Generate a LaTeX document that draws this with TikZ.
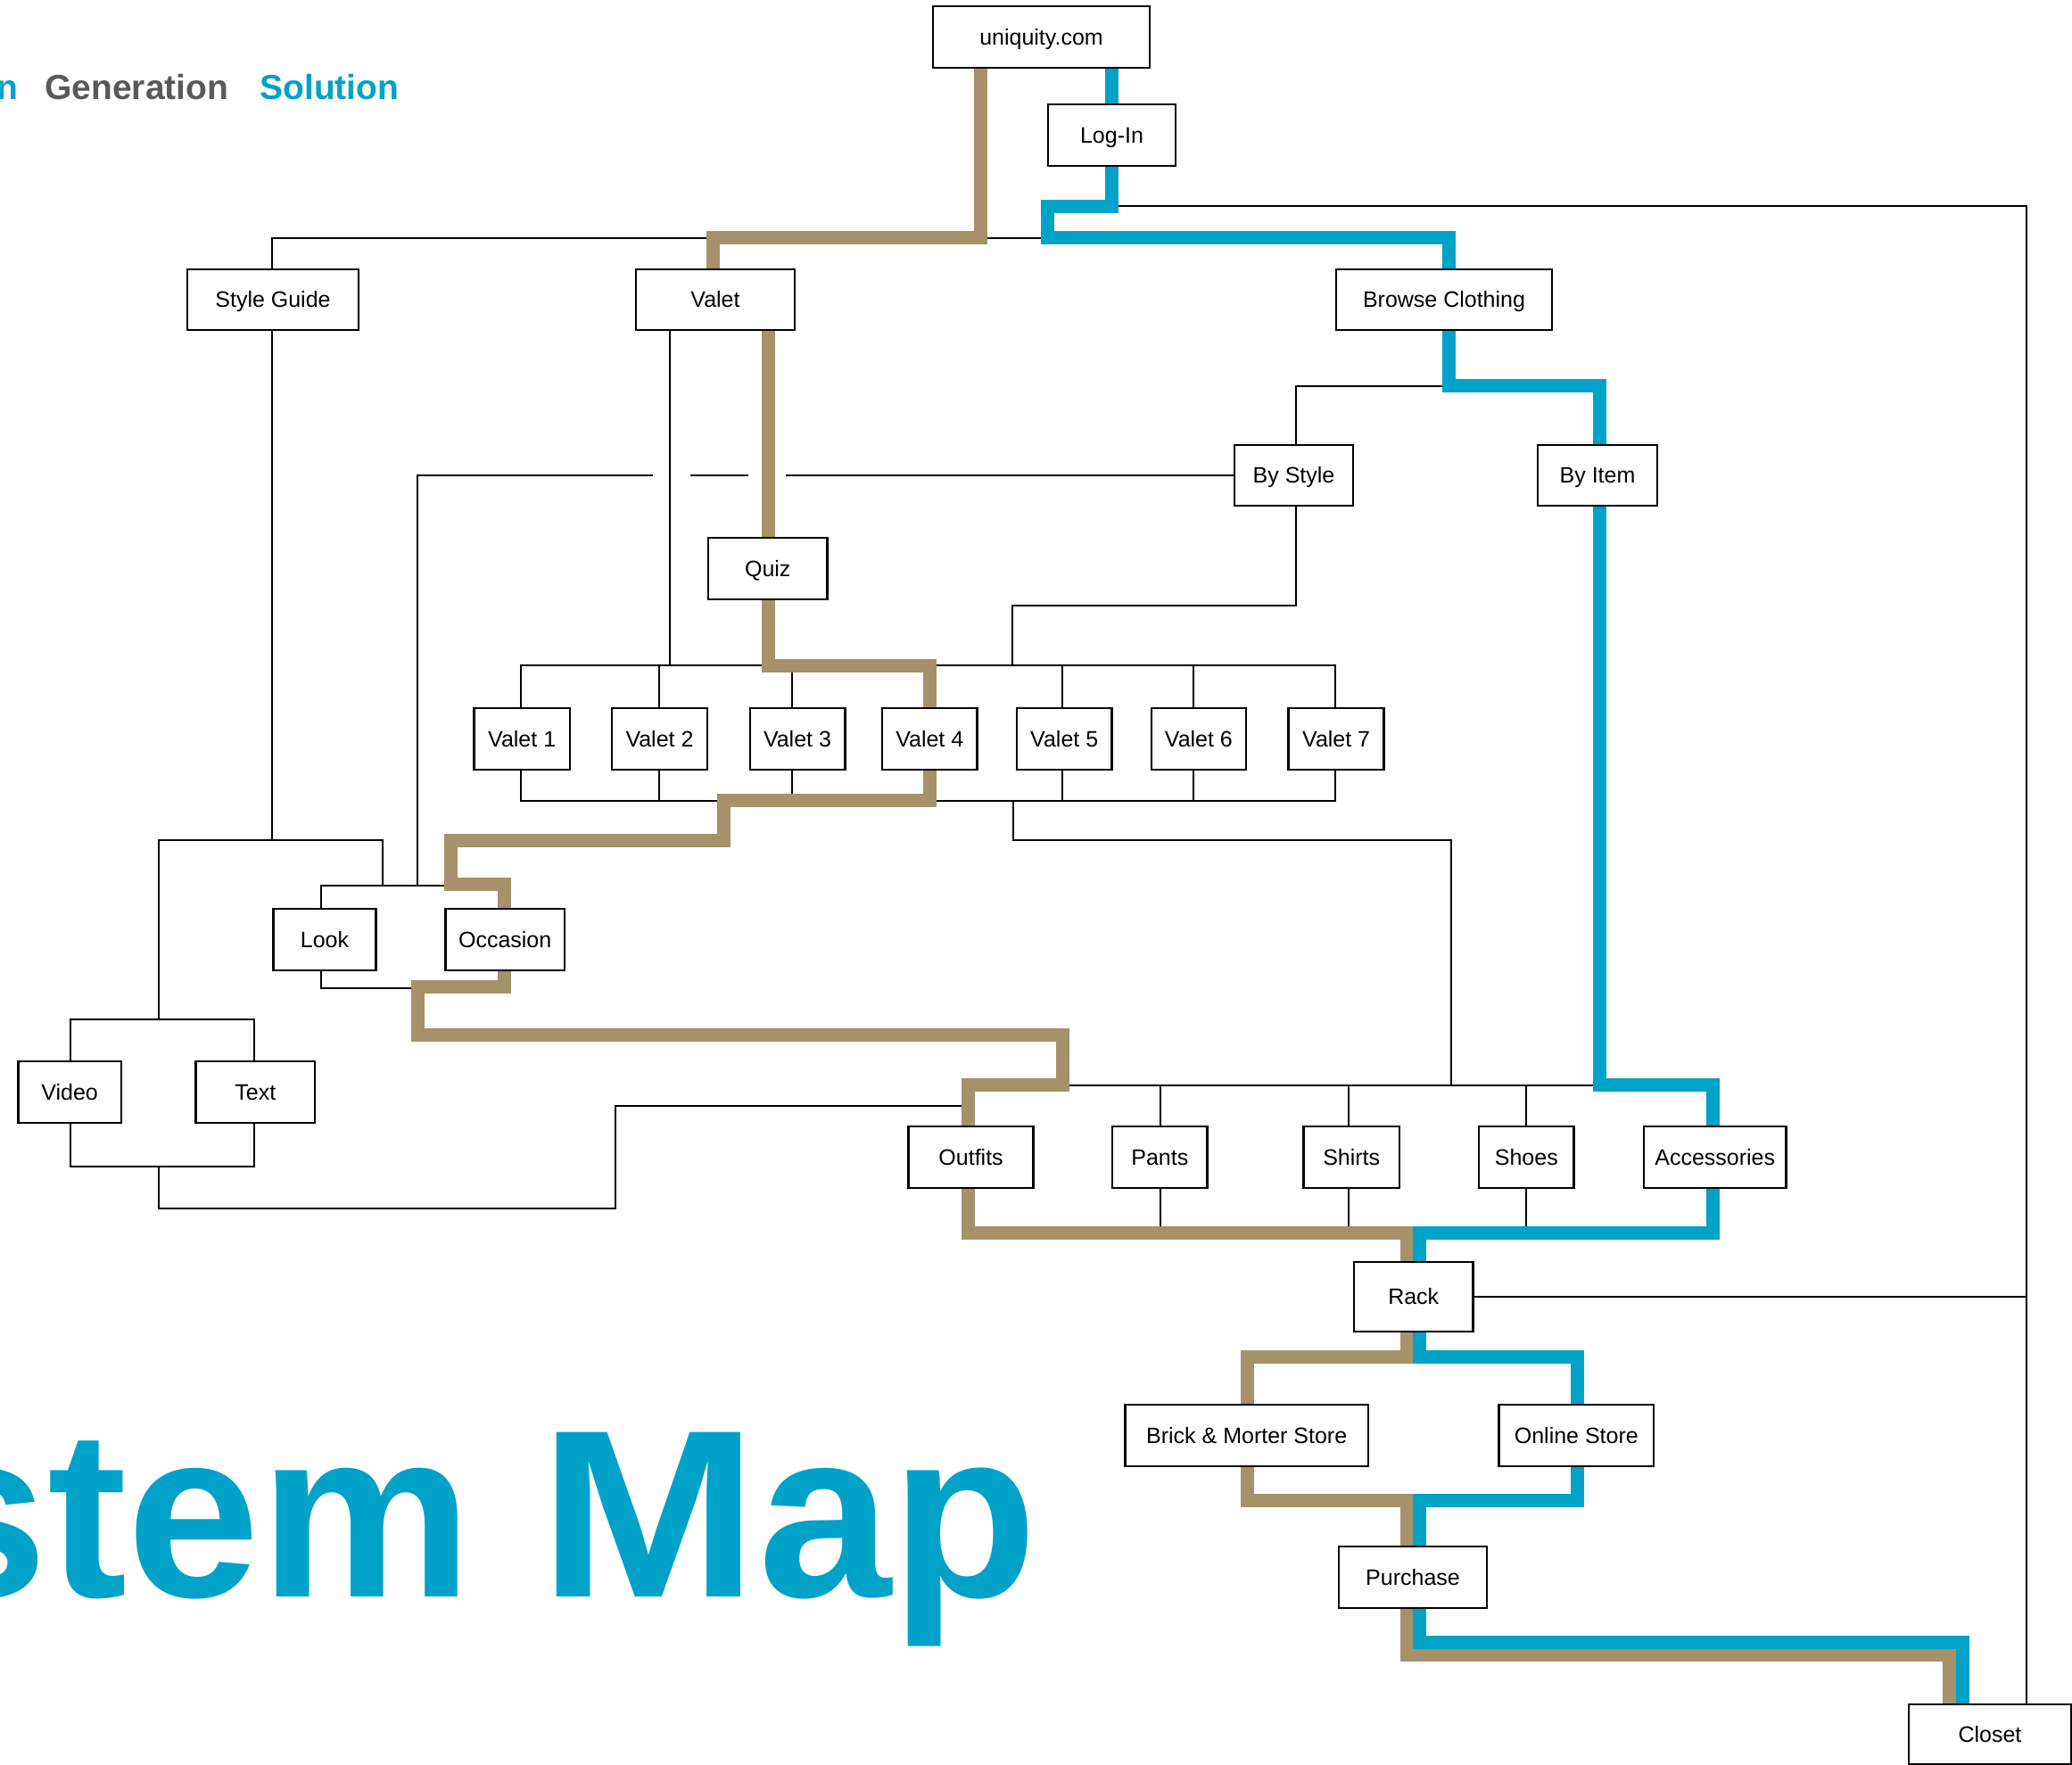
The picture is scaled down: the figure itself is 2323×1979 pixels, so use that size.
\documentclass[tikz,border=0pt]{standalone}
\usepackage{fontspec}
\setmainfont{Liberation Sans}
\definecolor{pathblue}{HTML}{00A2C7}
\definecolor{pathtan}{HTML}{A5916A}
\definecolor{headgrey}{HTML}{58595B}
\pgfdeclarelayer{bg}
\pgfsetlayers{bg,main}
\tikzset{
  box/.style={draw=black, line width=1.3pt, fill=white, inner sep=0pt,
    text height=8.9pt, text depth=0pt, font=\fontsize{12.5}{14}\selectfont},
  wire/.style={draw=black, line width=1pt, line cap=rect},
  tanpath/.style={draw=pathtan, line width=7.5pt},
  bluepath/.style={draw=pathblue, line width=7.5pt},
  heading/.style={anchor=base west, inner sep=0pt, font=\bfseries\fontsize{19.5}{20}\selectfont},
}
% box given by its corners (x1,y1) and (x2,y2)
\newcommand\mapbox[6]{%
  \node[box, minimum width={(#4-#2)*0.5pt}, minimum height={(#5-#3)*0.5pt}]
    (#1) at ({(#2+#4)/2},{(#3+#5)/2}) {#6};}
\begin{document}
\begin{tikzpicture}[x=0.5pt,y=-0.5pt]
\useasboundingbox (0,0) rectangle (2323,1979);

% headings
\node[heading, text=pathblue] (hn) at (-4,112) {n};
\node[heading, text=headgrey] (hgen) at (50,112) {Generation};
\node[heading, text=pathblue] (hsol) at (291,112) {Solution};
\node[anchor=base west, inner sep=0pt, text=pathblue,
      font=\bfseries\fontsize{134}{134}\selectfont] (title) at (-96,1790)
      {stem \scalebox{1.1}[1]{M}ap};

% boxes
\mapbox{uni}{1046}{7}{1289}{76}{uniquity.com}
\mapbox{login}{1175}{117}{1318}{186}{Log-In}
\mapbox{guide}{210}{302}{402}{370}{Style Guide}
\mapbox{valet}{713}{302}{891}{370}{Valet}
\mapbox{browse}{1498}{302}{1740}{370}{Browse Clothing}
\mapbox{bystyle}{1384}{499}{1517}{567}{By Style}
\mapbox{byitem}{1724}{499}{1858}{567}{By Item}
\mapbox{quiz}{794}{603}{927.5}{672}{Quiz}
\mapbox{va}{531.6}{794}{638.8}{863}{Valet 1}
\mapbox{vb}{686}{794}{793}{863}{Valet 2}
\mapbox{vc}{840.8}{794}{947.2}{863}{Valet 3}
\mapbox{vd}{989}{794}{1095.6}{863}{Valet 4}
\mapbox{ve}{1140}{794}{1246.4}{863}{Valet 5}
\mapbox{vf}{1290.8}{794}{1397}{863}{Valet 6}
\mapbox{vg}{1444.6}{794}{1551.7}{863}{Valet 7}
\mapbox{look}{306.5}{1019}{421.6}{1088}{Look}
\mapbox{occasion}{499.5}{1019}{632.8}{1088}{Occasion}
\mapbox{video}{20.3}{1190}{136}{1259}{Video}
\mapbox{textbox}{219.6}{1190}{353}{1259}{Text}
\mapbox{outfits}{1018.6}{1263}{1158.6}{1332}{Outfits}
\mapbox{pants}{1247}{1263}{1353.6}{1332}{Pants}
\mapbox{shirts}{1461.6}{1263}{1568.8}{1332}{Shirts}
\mapbox{shoes}{1658}{1263}{1764.6}{1332}{Shoes}
\mapbox{acc}{1843}{1263}{2002.5}{1332}{Accessories}
\mapbox{rack}{1518}{1415}{1651.5}{1493}{Rack}
\mapbox{brick}{1261.6}{1575}{1533.8}{1644}{Brick \& Morter Store}
\mapbox{online}{1680.7}{1575}{1854}{1644}{Online Store}
\mapbox{purchase}{1501}{1734}{1667}{1803}{Purchase}
\mapbox{closet}{2140}{1911}{2322}{1978}{Closet}

\begin{pgfonlayer}{bg}
% thin connectors
\draw[wire] (guide.north -| 305,0) -- (305,267) -- (browse.north |- 0,267);
\draw[wire] (login.south |- 0,231) -| (closet.north -| 2271.5,0);
\draw[wire] (rack.east) -- (rack.east -| 2271.5,0);
\draw[wire] (browse.south |- 0,433) -| (bystyle.north -| 1453,0);
\draw[wire] (bystyle.south -| 1453,0) |- (1135,679) -- (1135,745.6);
\draw[wire] (bystyle.west) -- (882,533);
\draw[wire] (838,533) -- (775,533);
\draw[wire] (731,533) -| (468,993);
\draw[wire] (valet.south -| 751,0) -- (751,745.6);
\draw[wire] (584.4,745.6) -- (1497.4,745.6);
\draw[wire] (584.4,898.3) -- (1497.4,898.3);
\foreach \n/\x in {va/584.4, vb/739, vc/887.5, ve/1191, vf/1338, vg/1497.4} {
  \draw[wire] (\x,745.6) -- (\n.north -| \x,0);
  \draw[wire] (\n.south -| \x,0) -- (\x,898.3);
}
\draw[wire] (1135.5,898.3) -- (1135.5,942.3) -- (1627,942.3) -- (1627,1217);
\draw[wire] (1199,1217) -- (1793,1217);
\foreach \n/\x in {pants/1301, shirts/1512, shoes/1711} {
  \draw[wire] (\x,1217) -- (\n.north -| \x,0);
  \draw[wire] (\n.south -| \x,0) -- (\x,1382);
}
\draw[wire] (guide.south -| 305,0) -- (305,942.3);
\draw[wire] (177.5,942.3) -- (428.6,942.3) -- (428.6,993);
\draw[wire] (177.5,942.3) -- (177.5,1143);
\draw[wire] (look.north -| 360,0) |- (566,993);
\draw[wire] (look.south -| 360,0) |- (468,1108);
\draw[wire] (video.north -| 78.6,0) -- (78.6,1143) -- (284.8,1143) -- (textbox.north -| 284.8,0);
\draw[wire] (video.south -| 78.6,0) -- (78.6,1308) -- (284.8,1308) -- (textbox.south -| 284.8,0);
\draw[wire] (178,1308) -- (178,1354.7) -- (689.6,1354.7) -- (689.6,1240) -- (1085,1240);

% highlighted routes
\draw[tanpath] (uni.south -| 1099,0) -- (1099,266.5) -- (799,266.5) -- (valet.north -| 799,0);
\draw[bluepath] (uni.south -| 1246,0) -- (login.north -| 1246,0);
\draw[bluepath] (login.south -| 1246,0) -- (1246,231.5) -- (1174.5,231.5) -- (1174.5,266.5)
  -- (1624,266.5) -- (browse.north -| 1624,0);
\draw[bluepath] (browse.south -| 1624,0) -- (1624,433) -- (1793,433) -- (byitem.north -| 1793,0);
\draw[bluepath] (byitem.south -| 1793,0) -- (1793,1216) -- (1920,1216) -- (acc.north -| 1920,0);
\draw[tanpath] (valet.south -| 861,0) -- (quiz.north -| 861,0);
\draw[tanpath] (quiz.south -| 861,0) -- (861,746) -- (1042,746) -- (vd.north -| 1042,0);
\draw[tanpath] (vd.south -| 1042,0) -- (1042,897.5) -- (811.5,897.5) -- (811.5,942) -- (505.6,942)
  -- (505.6,991.7) -- (565,991.7) -- (occasion.north -| 565,0);
\draw[tanpath] (occasion.south -| 565,0) -- (565,1106) -- (468.6,1106) -- (468.6,1160.8)
  -- (1191.5,1160.8) -- (1191.5,1216) -- (1085,1216) -- (outfits.north -| 1085,0);
\draw[tanpath] (outfits.south -| 1085,0) -- (1085,1382) -- (1577.5,1382) -- (rack.north -| 1577.5,0);
\draw[bluepath] (acc.south -| 1920,0) -- (1920,1382) -- (1591,1382) -- (rack.north -| 1591,0);
\draw[tanpath] (rack.south -| 1577.5,0) -- (1577.5,1521.5) -- (1398,1521.5) -- (brick.north -| 1398,0);
\draw[bluepath] (rack.south -| 1591,0) -- (1591,1521.5) -- (1768,1521.5) -- (online.north -| 1768,0);
\draw[tanpath] (brick.south -| 1398,0) -- (1398,1682.8) -- (1577.5,1682.8) -- (purchase.north -| 1577.5,0);
\draw[bluepath] (online.south -| 1768,0) -- (1768,1682.8) -- (1591,1682.8) -- (purchase.north -| 1591,0);
\draw[tanpath] (purchase.south -| 1577.5,0) -- (1577.5,1855) -- (2185.7,1855) -- (closet.north -| 2185.7,0);
\draw[bluepath] (purchase.south -| 1591,0) -- (1591,1841.7) -- (2200,1841.7) -- (closet.north -| 2200,0);
\end{pgfonlayer}
\end{tikzpicture}
\end{document}
